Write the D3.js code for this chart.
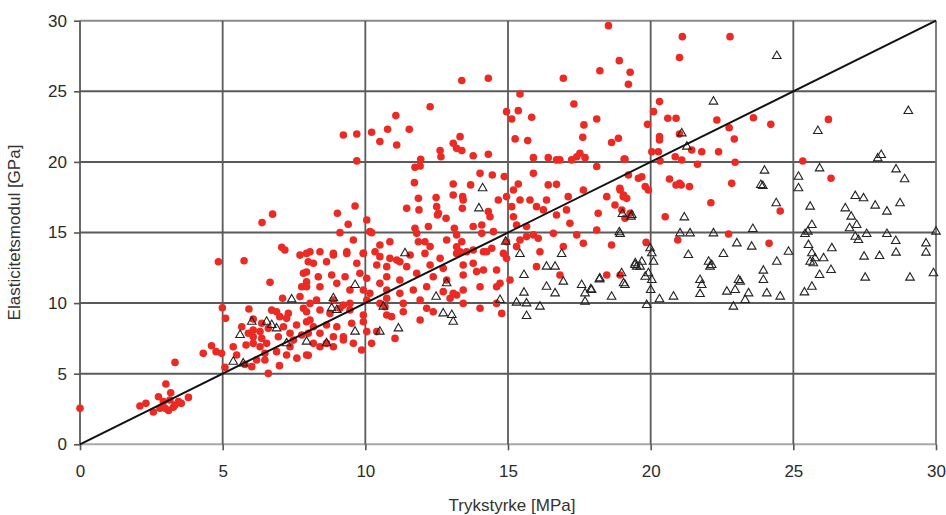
<!DOCTYPE html>
<html><head><meta charset="utf-8">
<script src="https://cdn.jsdelivr.net/npm/d3@7"></script>
<style>body{margin:0;background:#fff}svg{display:block}</style>
</head><body>
<svg id="c" width="946" height="515"></svg>
<script>
const xTicks=[0,5,10,15,20,25,30];
const yTicks=[0,5,10,15,20,25,30];
const xTitle="Trykstyrke [MPa]";
const yTitle="Elasticitetsmodul [GPa]";
const refLine=[[0,0],[30,30]];

const redPoints=[
[0,2.55],[2.1,2.71],[2.31,2.9],[2.57,2.29],[2.75,3.37],[2.8,2.55],[2.92,3.02],[2.98,2.55],[3.01,4.27],[3.15,3.14],[3.18,3.65],[3.27,2.62],[3.33,2.78],[3.45,3.02],[3.8,3.32],[3.33,5.8],[4.32,6.44],[4.61,6.98],[4.77,6.56],[4.96,6.44],[4.85,12.93],[4.99,9.67],[3.1,2.4],[3.55,2.9],
[5.75,13.0],[6.75,16.3],[6.38,15.7],[7.07,13.95],[7.18,13.76],[7.71,13.4],[8.0,12.93],[6.66,11.47],[7.94,12.2],[7.94,11.5],[7.77,11.16],[7.1,10.34],[5.92,9.58],[6.72,9.5],[6.89,9.39],[7.3,9.27],[7.83,9.63],[8.06,9.98],[5.1,8.92],[6.07,8.87],[7.24,8.92],[7.0,9.04],[6.37,8.57],[7.13,8.33],[7.94,8.68],[7.59,8.45],[6.6,8.21],[5.67,8.33],[5.9,7.86],[6.07,8.1],[6.31,7.98],[6.37,7.5],[6.07,7.62],[6.95,7.62],[7.36,7.86],[7.48,7.38],[7.77,7.74],[8.0,7.86],[5.37,6.91],[6.54,7.15],[6.07,7.15],[6.31,6.91],[6.89,6.56],[7.24,6.32],[7.36,6.91],[5.49,6.32],[5.82,7.03],[6.48,6.44],[5.08,5.45],[5.78,5.66],[6.02,5.5],[6.99,5.57],[6.6,5.02],[6.19,5.97],[6.48,5.97],[8.0,6.3],[7.6,6.1],
[7.94,13.52],[8.41,13.64],[8.88,13.41],[9.35,13.52],[9.93,13.52],[10.51,13.29],[10.86,13.17],[11.1,13.05],[11.57,13.41],[12.09,13.52],[12.62,13.17],[13.2,13.52],[13.55,13.64],[14.25,13.64],[14.84,13.52],[16.12,13.64],[14.95,13.17],
[8.18,12.82],[8.64,12.93],[9.7,12.82],[10.4,12.7],[10.75,12.58],[11.21,12.93],[11.45,12.58],[12.27,12.7],[12.73,12.46],[13.43,12.7],[13.78,12.82],[14.14,12.34],[14.6,12.34],[16.0,12.58],
[7.83,12.11],[8.35,11.87],[8.82,11.99],[9.29,11.87],[9.81,12.11],[10.05,11.76],[10.51,11.4],[10.75,11.87],[11.21,11.64],[11.8,12.11],[12.38,11.87],[12.85,11.64],[13.43,11.99],[13.9,12.23],[15.07,11.64],[16.82,11.99],[18.46,11.99],[18.93,11.99],
[7.94,11.16],[8.41,11.16],[9.0,11.4],[9.46,10.93],[9.93,10.93],[10.16,10.69],[10.75,10.93],[11.21,10.69],[11.68,10.93],[12.15,11.16],[12.73,10.81],[13.08,10.69],[13.43,10.93],[14.02,11.16],[14.6,11.16],[14.72,11.4],[13.2,10.57],
[7.71,10.46],[8.29,10.22],[8.88,10.22],[9.23,9.86],[9.46,9.98],[10.05,10.22],[10.51,9.98],[10.75,10.34],[11.33,9.98],[11.92,10.22],[12.15,9.63],[12.97,10.34],[13.43,9.98],[14.02,9.63],[14.6,9.98],[14.78,9.27],
[7.94,9.39],[8.41,9.51],[8.76,9.27],[9.11,9.63],[9.46,9.51],[9.93,9.16],[10.69,9.75],[10.75,9.16],[10.92,9.04],[11.92,8.8],[11.33,9.39],[12.38,9.39],
[8.06,8.8],[8.18,8.33],[8.64,8.45],[9.0,8.33],[9.52,8.57],[9.93,8.68],[10.05,7.98],[10.4,7.98],[11.04,7.5],[8.41,7.86],[8.88,7.62],[9.23,7.62],
[8.18,7.15],[8.41,6.91],[8.64,7.15],[8.88,6.91],[9.23,7.39],[9.58,7.15],[9.87,6.68],[10.22,7.15],[7.94,6.32],
[13.38,25.76],[14.31,25.92],[16.94,25.92],[18.22,26.46],[18.9,27.17],[19.28,26.35],[19.22,25.5],[15.42,24.81],[12.27,23.91],[11.07,23.28],[14.95,23.56],[15.36,23.63],[15.13,23.04],[15.83,23.16],[17.31,24.1],[18.11,23.04],[17.66,22.62],
[9.23,21.91],[9.7,21.98],[10.22,22.1],[10.78,22.31],[11.54,22.31],[10.51,21.44],[11.1,21.2],[13.32,21.79],[13.08,21.32],[13.2,20.96],[13.38,20.8],[12.62,20.8],[12.65,20.37],[13.78,20.44],[14.31,20.54],[15.25,21.63],[15.69,21.51],[17.62,21.74],[18.63,21.37],[18.87,21.67],
[15.89,20.3],[16.41,20.3],[16.7,20.14],[16.82,20.14],[17.23,20.14],[17.41,20.37],[17.52,20.61],[17.7,20.3],[18.11,19.67],[19.1,20.21],[9.7,20.07],[11.74,19.62],[11.92,19.71],[11.94,20.19],
[11.72,18.53],[13.08,18.44],[13.69,18.37],[14.02,19.19],[14.45,19.07],[14.87,18.96],[15.89,19.19],[16.41,18.37],[16.7,18.41],[17.64,18.01],[18.46,17.54],[18.92,18.13],[19.04,17.54],[19.57,18.84],[19.22,19.07],[15.19,18.01],[15.36,18.44],
[9.02,16.36],[9.64,16.88],[9.4,15.58],[9.11,14.99],[10.05,15.89],[10.16,15.06],[10.22,14.99],[9.58,14.47],[11.45,16.71],[11.86,17.42],[11.88,16.6],[12.48,17.47],[12.5,16.83],[12.56,16.36],[12.53,16.24],[12.21,15.42],[11.74,15.3],[11.8,14.94],[11.86,14.35],
[13.08,17.66],[13.41,17.54],[13.43,17.3],[13.4,16.71],[12.83,16.01],[13.12,15.3],[13.2,14.83],[13.78,15.42],[14.08,15.53],[14.08,14.94],[14.31,16.48],[14.37,16.12],[14.66,17.3],[14.49,15.06],[14.95,17.54],[15.13,16.83],[15.19,16.12],[15.42,17.3],
[15.77,17.3],[16.0,16.83],[16.24,16.6],[16.35,17.3],[16.7,16.24],[17.11,17.54],[17.05,16.6],[17.17,15.65],[18.16,16.36],[18.11,15.18],[18.75,16.95],[19.1,16.01],[19.28,16.36],[15.3,15.53],[15.65,15.42],[15.89,14.83],[16.06,14.59],[16.59,14.94],[16.94,14.0],[17.41,14.83],[17.64,14.24],[18.63,14.12],
[12.85,14.47],[13.2,13.99],[13.38,14.35],[13.32,13.64],[13.78,13.76],[14.14,13.64],[14.43,13.88],[10.51,14.12],[10.86,14.35],[10.34,13.64],[8.06,13.64],[8.88,13.53],[9.35,13.64],[9.93,13.53],[12.09,14.35],[12.27,14.0],[14.95,14.35],[15.3,14.0],[15.42,14.47],[15.65,14.71],
[21.11,28.87],[22.78,28.87],[21.01,27.39],[18.52,29.65],
[20.31,24.27],[20.1,23.56],[19.89,22.66],[20.6,23.09],[20.89,23.09],[20.31,21.79],[20.31,21.55],[21.01,21.98],[22.32,22.97],[22.75,22.42],[22.93,21.62],[23.6,23.13],[24.21,22.66],
[20.04,20.72],[20.27,20.72],[20.86,20.37],[21.09,20.13],[21.44,20.84],[21.79,20.72],[22.38,20.72],[21.64,19.83],[22.96,19.97],[19.07,20.2],[20.33,20.06],
[19.69,18.95],[19.81,18.25],[19.92,18.01],[20.66,18.79],[20.89,18.36],[21.01,18.48],[21.07,18.36],[21.36,18.25],[22.84,18.48],[22.11,17.11],[20.51,16.12],[22.73,14.89],[20.95,14.47],[19.84,14.3],[24.54,16.52],[24.15,14.23],
[18.93,18.01],[19.05,17.66],[19.16,17.42],[18.99,16.59],[26.23,23.01],[25.33,20.06],[26.32,18.84]
];

const trianglePoints=[
[7.42,10.26],[6.02,8.68],[6.54,8.68],[6.72,8.45],[6.89,8.21],[5.61,7.74],[5.37,5.85],[5.72,5.73],[7.24,7.15],[7.94,7.27],
[8.88,10.34],[8.82,9.63],[9.0,9.51],[9.64,11.28],[10.63,9.75],[11.16,8.21],[10.51,7.98],[9.64,7.98],[8.64,7.15],[12.85,11.4],[12.48,10.45],[12.73,9.27],[13.03,9.16],[13.08,8.68],[14.72,10.22],[15.42,13.48],[16.88,13.48],[15.56,11.99],[15.56,10.74],[15.3,10.03],[15.65,9.98],[16.12,9.75],[15.65,9.09],[16.35,12.58],[16.65,12.58],[16.35,11.16],[16.65,10.69],[16.94,11.52],[17.58,11.28],[17.7,10.69],[17.93,10.93],[17.7,10.1],[18.22,11.75],[18.63,10.45],[18.98,12.11],[19.1,11.28],[19.45,12.7],
[14.11,18.13],[13.98,16.71],[19.01,16.31],[19.31,16.12],[18.9,15.02],[14.92,14.35],[11.39,13.53],
[19.63,12.58],[17.9,10.97],[18.2,11.68],
[24.42,27.5],[22.2,24.27],[29.03,23.6],[25.86,22.19],[21.09,22.02],[21.27,21.08],[28.08,20.49],[27.96,20.25],[25.92,19.54],[28.6,19.47],[28.9,18.77],[23.99,19.38],[25.18,18.95],[25.18,18.13],[23.86,18.36],[23.93,18.29],[24.4,17.07],[25.59,16.83],[27.17,17.58],[27.46,17.42],[27.87,16.9],[28.28,16.48],[28.74,17.07],[26.82,16.71],[27.03,16.12],[27.22,15.53],[26.97,15.3],[25.65,15.53],[25.51,15.06],[25.41,14.89],[27.57,14.89],[27.17,14.7],[27.28,14.47],[28.28,14.89],[28.59,14.4],[29.65,14.23],[30.0,15.06],[29.65,13.57],[28.6,13.57],[28.02,13.33],[27.48,13.29],[26.35,13.88],[26.06,13.17],[25.53,14.11],[25.65,13.53],[25.76,13.17],[24.83,13.64],[23.58,15.25],[23.54,14.0],[23.02,14.23],[22.55,13.48],[22.2,14.94],[21.38,14.94],[21.03,14.94],[21.18,16.07],[21.32,13.41],[20.04,13.53],[19.98,13.88],[19.34,16.24],[18.93,14.89],
[25.59,12.93],[25.7,12.82],[26.32,12.34],[25.92,11.99],[25.65,11.16],[25.39,10.76],[27.52,11.8],[29.09,11.8],[29.91,12.11],[24.42,12.93],[23.95,12.3],[23.95,11.64],[22.03,12.93],[22.08,12.58],[22.14,12.7],[23.08,11.64],[23.14,11.52],[21.73,11.64],[21.79,11.28],[22.67,10.81],[22.96,10.93],[23.43,10.69],[24.07,10.69],[24.54,10.46],[20.8,10.46],[20.31,10.27],[20.1,12.93],[19.46,12.82],[19.69,12.93],[19.51,12.58],[19.81,11.87],[20.04,11.64],[19.92,12.11],[20.0,10.93],[19.05,11.4],
[19.86,9.86],[22.9,9.75],[23.31,10.22],[21.73,10.64]
];

const svg=d3.select("#c");
const x=d3.scaleLinear().domain([0,30]).range([80,936]);
const y=d3.scaleLinear().domain([0,30]).range([444.3,20.7]);
const font="'Liberation Sans', Arial, sans-serif";

// grid
const g=svg.append("g");
g.selectAll("line.h").data(yTicks).join("line").attr("class","h")
  .attr("x1",x(0)).attr("x2",x(30)).attr("y1",d=>y(d)).attr("y2",d=>y(d))
  .attr("stroke",d=>d===0?"#a8a8a8":(d===30?"#8a8a8a":"#5a5a5a")).attr("stroke-width",2);
g.selectAll("line.v").data(xTicks).join("line").attr("class","v")
  .attr("y1",y(0)).attr("y2",y(30)).attr("x1",d=>x(d)).attr("x2",d=>x(d))
  .attr("stroke",d=>d===30?"#707070":"#5a5a5a").attr("stroke-width",1.8);

// axes
const ya=svg.append("g").attr("transform",`translate(${x(0)},0)`)
  .call(d3.axisLeft(y).tickValues(yTicks).tickSize(6).tickPadding(7).tickFormat(d3.format("d")));
const xa=svg.append("g").attr("transform",`translate(0,${y(0)})`)
  .call(d3.axisBottom(x).tickValues(xTicks).tickSize(6).tickPadding(15).tickFormat(d3.format("d")));
[ya,xa].forEach(a=>{
  a.select(".domain").remove();
  a.selectAll(".tick line").attr("stroke","#555").attr("stroke-width",1.6);
  a.selectAll(".tick text").attr("fill","#2a2a2a").style("font-family",font).style("font-size","17px");
});

// points
svg.append("g").selectAll("circle").data(redPoints).join("circle")
  .attr("cx",d=>x(d[0])).attr("cy",d=>y(d[1])).attr("r",3.8)
  .attr("fill","#ec2a24");
const tri=d3.symbol().type(d3.symbolTriangle).size(32);
svg.append("g").selectAll("path").data(trianglePoints).join("path")
  .attr("d",tri).attr("transform",d=>`translate(${x(d[0])},${y(d[1])})`)
  .attr("fill","none").attr("stroke","#222").attr("stroke-width",1.1);

// reference line
svg.append("path").datum(refLine)
  .attr("d",d3.line().x(d=>x(d[0])).y(d=>y(d[1])))
  .attr("stroke","#111").attr("stroke-width",2).attr("fill","none");

// titles
svg.append("text").text(xTitle).attr("x",(x(0)+x(30))/2+4).attr("y",511)
  .attr("text-anchor","middle").attr("fill","#333").style("font-family",font).style("font-size","17px");
svg.append("text").text(yTitle).attr("transform",`translate(20,${(y(0)+y(30))/2}) rotate(-90)`)
  .attr("text-anchor","middle").attr("fill","#333").style("font-family",font).style("font-size","17px");
</script>
</body></html>
